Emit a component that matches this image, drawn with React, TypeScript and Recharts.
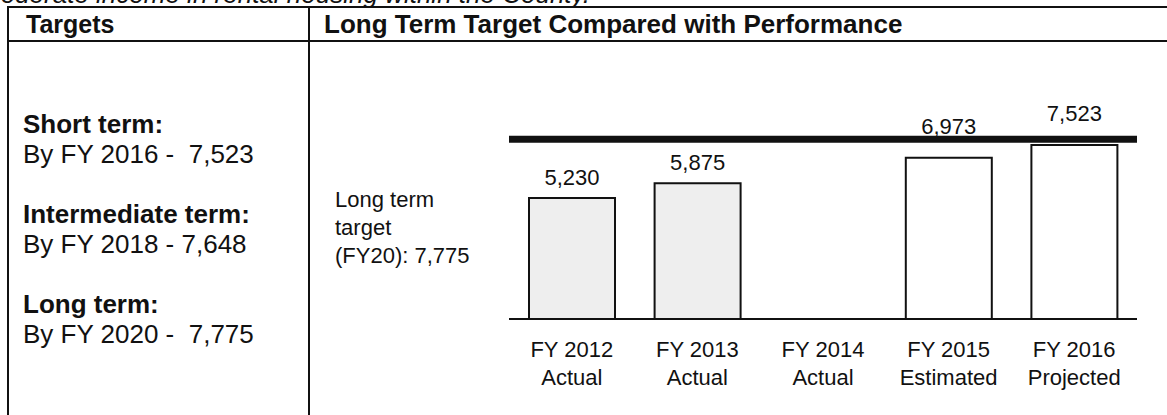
import React from 'react';
import { BarChart, Bar, XAxis, YAxis, ReferenceLine, LabelList, Cell } from 'recharts';

const categories = ['FY 2012', 'FY 2013', 'FY 2014', 'FY 2015', 'FY 2016'];
const statuses = ['Actual', 'Actual', 'Actual', 'Estimated', 'Projected'];
const values = [5230, 5875, 0, 6973, 7523];
const longTermTarget = 7775;
const targetTitles = ['Short term:', 'Intermediate term:', 'Long term:'];
const targetTexts = ['By FY 2016 -  7,523', 'By FY 2018 - 7,648', 'By FY 2020 -  7,775'];
const sideNote = ['Long term', 'target', '(FY20): 7,775'];

const data = categories.map((c, i) => ({ cat: c, status: statuses[i], value: values[i] }));

const FONT = '"Liberation Sans", Arial, sans-serif';

const CatTick = (props: any) => {
  const { x, y, payload } = props;
  const i = categories.indexOf(payload.value);
  return (
    <text x={x} y={y} textAnchor="middle" fontFamily={FONT} fontSize={22} fill="#111">
      <tspan x={x} dy={36}>{payload.value}</tspan>
      <tspan x={x} dy={28}>{statuses[i]}</tspan>
    </text>
  );
};

const renderLabel = (props: any) => {
  const { x, y, width, value } = props;
  const off = longTermTarget - value < 1000 ? 24 : 13;
  return (
    <text x={x + width / 2} y={y - off} textAnchor="middle" fontFamily={FONT} fontSize={22} fill="#111">
      {Number(value).toLocaleString('en-US')}
    </text>
  );
};

export default function App() {
  return (
    <div style={{ position: 'fixed', left: 0, top: 0, width: 1167, height: 415, overflow: 'hidden', background: '#fff' }}>
      <svg width={1167} height={415} style={{ position: 'absolute', left: 0, top: 0 }}>
        <text x={-21} y={3} fontFamily={FONT} fontSize={26} fontStyle="italic" fill="#111">
          moderate income in rental housing within the County.
        </text>
        <line x1={8} y1={7} x2={1167} y2={7} stroke="#111" strokeWidth={2} />
        <line x1={8} y1={41} x2={1167} y2={41} stroke="#111" strokeWidth={2} />
        <line x1={8} y1={6} x2={8} y2={415} stroke="#111" strokeWidth={2} />
        <line x1={309} y1={6} x2={309} y2={415} stroke="#111" strokeWidth={2} />
        <text x={26} y={33} fontFamily={FONT} fontSize={25} fontWeight="bold" fill="#111">Targets</text>
        <text x={324} y={33} fontFamily={FONT} fontSize={26} fontWeight="bold" fill="#111">
          Long Term Target Compared with Performance
        </text>
        {targetTitles.map((t, i) => (
          <g key={t}>
            <text x={23} y={133 + i * 90} fontFamily={FONT} fontSize={26} fontWeight="bold" fill="#111">{t}</text>
            <text x={23} y={163 + i * 90} fontFamily={FONT} fontSize={26} fill="#111" style={{ whiteSpace: 'pre' }}>{targetTexts[i]}</text>
          </g>
        ))}
        {sideNote.map((t, i) => (
          <text key={t} x={335} y={207 + i * 28} fontFamily={FONT} fontSize={22} fill="#111">{t}</text>
        ))}
      </svg>
      <div style={{ position: 'absolute', left: 0, top: 0 }}>
        <BarChart width={1167} height={415} data={data} margin={{ top: 134, right: 30, left: 509, bottom: 36 }} barCategoryGap={20}>
          <XAxis dataKey="cat" height={60} tickLine={false} tickSize={0} interval={0} axisLine={{ stroke: '#111', strokeWidth: 2 }} tick={<CatTick />} />
          <YAxis hide domain={[0, 8000]} />
          <Bar dataKey="value" isAnimationActive={false} stroke="#111" strokeWidth={2}>
            {data.map((d, i) => (
              <Cell key={i} fill={d.status === 'Actual' ? '#eeeeee' : '#ffffff'} />
            ))}
            <LabelList dataKey="value" content={renderLabel} />
          </Bar>
          <ReferenceLine y={longTermTarget} stroke="#111" strokeWidth={7} />
        </BarChart>
      </div>
    </div>
  );
}
